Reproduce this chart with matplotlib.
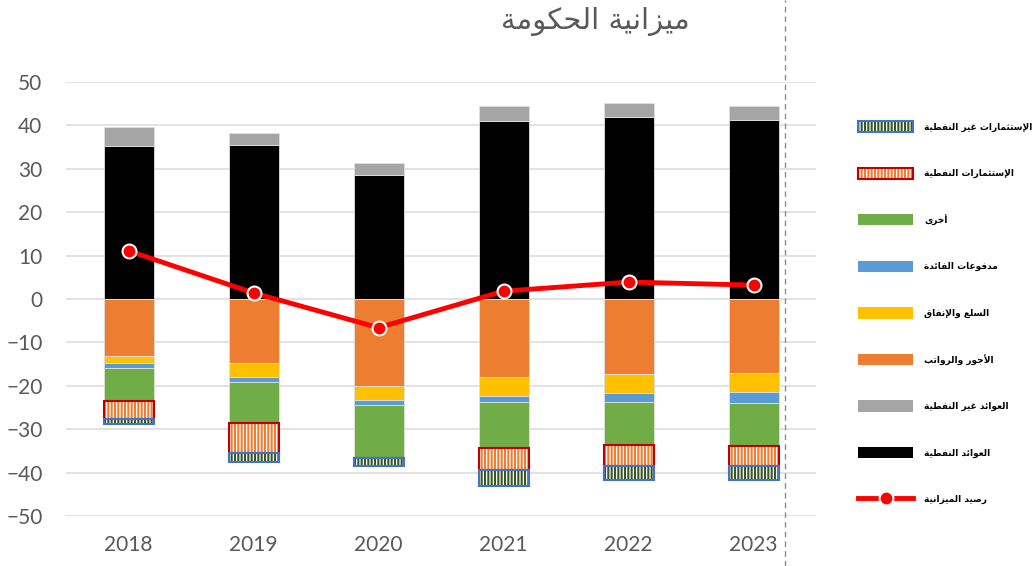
import numpy as np
import matplotlib
matplotlib.use("Agg")
import matplotlib.pyplot as plt
from matplotlib.patches import Patch
from matplotlib.lines import Line2D
from matplotlib.legend_handler import HandlerTuple

# data (billions)
years = ["2018", "2019", "2020", "2021", "2022", "2023"]
oil_rev = [35.2, 35.5, 28.5, 41.1, 42.0, 41.3]
nonoil_rev = [4.4, 2.8, 2.8, 3.4, 3.2, 3.1]
wages = [-13.2, -14.7, -20.1, -17.9, -17.3, -17.1]
goods = [-1.6, -3.2, -3.2, -4.4, -4.3, -4.4]
interest = [-1.2, -1.2, -1.2, -1.4, -2.1, -2.4]
other = [-7.5, -9.5, -12.1, -10.6, -9.9, -9.9]
oil_inv = [-4.1, -6.9, 0.0, -5.0, -4.9, -4.6]
nonoil_inv = [-1.3, -2.1, -1.9, -3.8, -3.1, -3.2]
balance = [11.1, 1.4, -6.6, 1.8, 3.9, 3.2]

title = "ميزانية الحكومة"
labels = ["الإستثمارات غير النفطية", "الإستثمارات النفطية", "أخرى", "مدفوعات الفائدة",
          "السلع والإنفاق", "الأجور والرواتب", "العوائد غير النفطية", "العوائد النفطية",
          "رصيد الميزانية"]

# --- minimal Arabic shaping (matplotlib does no bidi / joining) ---
FORMS = {}
for ch, start, n in [('ء', 0xFE80, 1), ('آ', 0xFE81, 2), ('أ', 0xFE83, 2), ('ؤ', 0xFE85, 2),
                     ('إ', 0xFE87, 2), ('ئ', 0xFE89, 4), ('ا', 0xFE8D, 2), ('ب', 0xFE8F, 4),
                     ('ة', 0xFE93, 2), ('ت', 0xFE95, 4), ('ث', 0xFE99, 4), ('ج', 0xFE9D, 4),
                     ('ح', 0xFEA1, 4), ('خ', 0xFEA5, 4), ('د', 0xFEA9, 2), ('ذ', 0xFEAB, 2),
                     ('ر', 0xFEAD, 2), ('ز', 0xFEAF, 2), ('س', 0xFEB1, 4), ('ش', 0xFEB5, 4),
                     ('ص', 0xFEB9, 4), ('ض', 0xFEBD, 4), ('ط', 0xFEC1, 4), ('ظ', 0xFEC5, 4),
                     ('ع', 0xFEC9, 4), ('غ', 0xFECD, 4), ('ف', 0xFED1, 4), ('ق', 0xFED5, 4),
                     ('ك', 0xFED9, 4), ('ل', 0xFEDD, 4), ('م', 0xFEE1, 4), ('ن', 0xFEE5, 4),
                     ('ه', 0xFEE9, 4), ('و', 0xFEED, 2), ('ى', 0xFEEF, 2), ('ي', 0xFEF1, 4)]:
    FORMS[ch] = (start, n)
LAM_ALEF = {'آ': 0xFEF5, 'أ': 0xFEF7, 'إ': 0xFEF9, 'ا': 0xFEFB}


def shape(text):
    chars = []
    i = 0
    while i < len(text):
        if text[i] == 'ل' and i + 1 < len(text) and text[i + 1] in LAM_ALEF:
            chars.append(('LA', text[i + 1]))
            i += 2
        else:
            chars.append(text[i])
            i += 1

    def joins(c):
        if isinstance(c, tuple):
            return 2
        return FORMS.get(c, (0, 0))[1]

    out = []
    for k, c in enumerate(chars):
        prev = chars[k - 1] if k > 0 else None
        nxt = chars[k + 1] if k + 1 < len(chars) else None
        n = joins(c)
        lp = n >= 2 and prev is not None and joins(prev) == 4
        ln = n == 4 and nxt is not None and joins(nxt) >= 2
        if isinstance(c, tuple):
            out.append(chr(LAM_ALEF[c[1]] + (1 if lp else 0)))
        elif n == 0:
            out.append(c)
        else:
            idx = 3 if (lp and ln) else 1 if lp else 2 if ln else 0
            out.append(chr(FORMS[c][0] + idx))
    return ''.join(reversed(out))


plt.rcParams['hatch.linewidth'] = 1.5

fig = plt.figure(figsize=(10.33, 5.66), dpi=100)
ax = fig.add_axes([66 / 1033, 1 - 516 / 566, 750 / 1033, 434 / 566])

x = np.arange(len(years))
w = 0.4
edge = dict(edgecolor='#e0e0e0', linewidth=0.6)

# revenues
ax.bar(x, oil_rev, w, color='black', **edge, zorder=2)
ax.bar(x, nonoil_rev, w, bottom=oil_rev, color='#A5A5A5', **edge, zorder=2)

# spending stacked downward
bottom = np.zeros(len(years))
for vals, col in [(wages, '#ED7D31'), (goods, '#FFC000'), (interest, '#5B9BD5'), (other, '#70AD47')]:
    ax.bar(x, vals, w, bottom=bottom, color=col, **edge, zorder=2)
    bottom = bottom + np.array(vals)

ax.bar(x, oil_inv, w, bottom=bottom, facecolor='white', edgecolor='#ED7D31', hatch='|||||',
       linewidth=0, zorder=2)
ax.bar(x, oil_inv, w, bottom=bottom, facecolor='none', edgecolor='#C00000', linewidth=1.5, zorder=3)
bottom = bottom + np.array(oil_inv)
ax.bar(x, nonoil_inv, w, bottom=bottom, facecolor='white', edgecolor='#375623', hatch='|||||',
       linewidth=0, zorder=2)
ax.bar(x, nonoil_inv, w, bottom=bottom, facecolor='none', edgecolor='#4472C4', linewidth=1.5, zorder=3)

ax.plot(x, balance, color='#FF0000', linewidth=3.5, marker='o', markersize=10,
        markerfacecolor='#FF0000', markeredgecolor='white', markeredgewidth=1.5, zorder=4)

ax.set_xlim(-0.5, len(years) - 0.5)
ax.set_ylim(-50, 50)
ax.set_yticks(np.arange(-50, 51, 10))
ax.set_xticks(x)
ax.set_xticklabels(years)
ax.grid(axis='y', color='#DDDDDD', linewidth=1.2, zorder=0)
ax.set_axisbelow(True)
for s in ax.spines.values():
    s.set_visible(False)
ax.tick_params(length=0, labelsize=15, labelcolor='#595959')
ax.tick_params(axis='y', pad=17)
ax.tick_params(axis='x', pad=14)
for lab in ax.get_xticklabels() + ax.get_yticklabels():
    lab.set_fontfamily('Lato')

fig.text(595 / 1033, 1 - 22 / 566, shape(title), ha='center', va='center', fontsize=21,
         color='#595959', family='DejaVu Sans')

# dashed separator
fig.add_artist(Line2D([785 / 1033, 785 / 1033], [0, 1], transform=fig.transFigure,
                      color='#8c8c8c', linestyle=(0, (4, 3)), linewidth=1))

# legend
h_nonoil = (Patch(facecolor='white', edgecolor='#375623', hatch='|||||', linewidth=0),
            Patch(facecolor='none', edgecolor='#4472C4', linewidth=1.5))
h_oil = (Patch(facecolor='white', edgecolor='#ED7D31', hatch='|||||', linewidth=0),
         Patch(facecolor='none', edgecolor='#C00000', linewidth=1.5))
handles = [h_nonoil, h_oil,
           Patch(facecolor='#70AD47'), Patch(facecolor='#5B9BD5'), Patch(facecolor='#FFC000'),
           Patch(facecolor='#ED7D31'), Patch(facecolor='#A5A5A5'), Patch(facecolor='black'),
           Line2D([], [], color='#FF0000', linewidth=3.5, marker='o', markersize=10,
                  markerfacecolor='#FF0000', markeredgecolor='white', markeredgewidth=1.5)]
leg = fig.legend(handles, [shape(t) for t in labels], loc='upper left',
                 bbox_to_anchor=(858 / 1033, 1 - 121 / 566), frameon=False,
                 prop=dict(family='DejaVu Sans', weight='bold', size=6.5),
                 handlelength=6.1, handleheight=1.55, handletextpad=1.2,
                 labelspacing=3.9, borderpad=0, borderaxespad=0,
                 handler_map={tuple: HandlerTuple(ndivide=1)})

fig.savefig("out.png", dpi=100)
